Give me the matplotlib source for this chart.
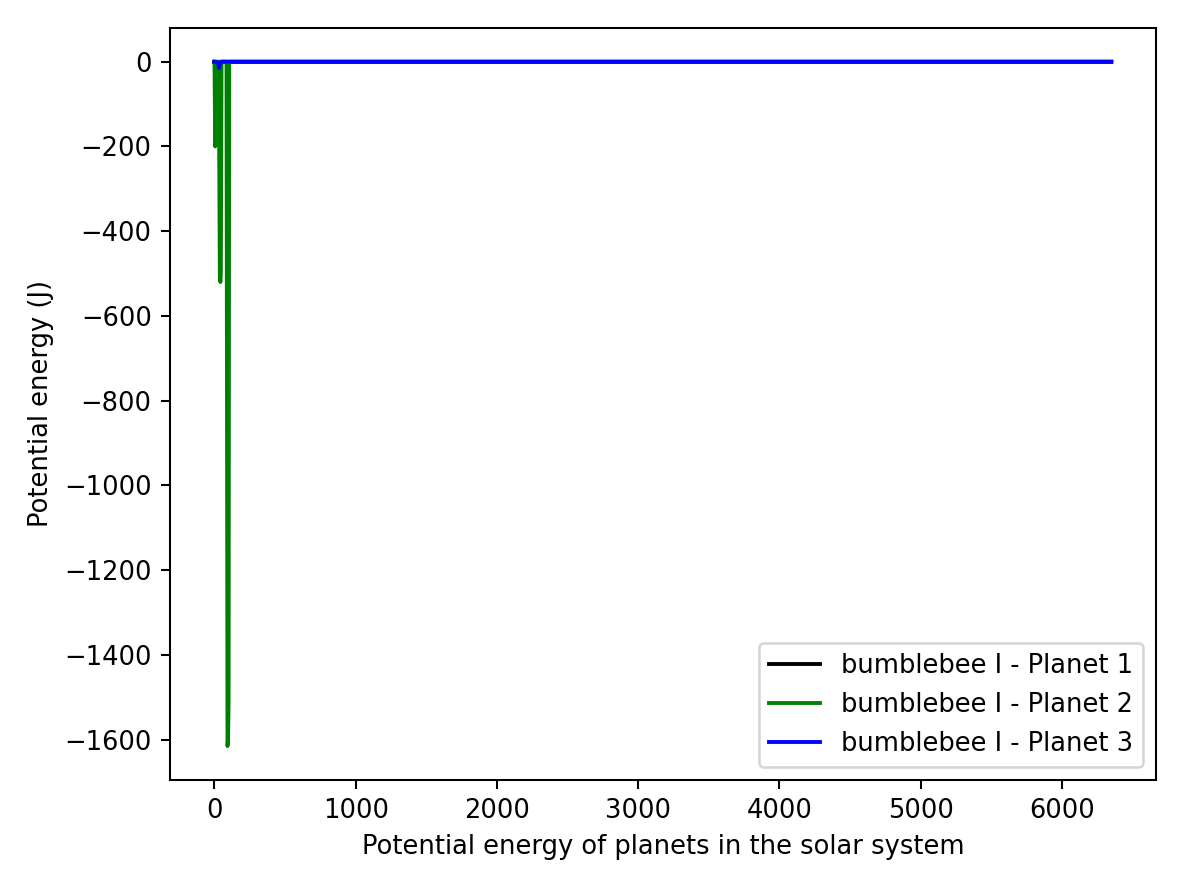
import numpy as np
import matplotlib.pyplot as plt

# time (x) and potential energies
t1 = [0, 6350]
pe1 = [0, 0]

t2 = [0, 5, 8, 12, 30, 38, 42, 45, 50, 85, 92, 96, 100, 104, 6350]
pe2 = [0, -200, -5, 0, 0, -510, -520, -500, 0, 0, -1615, -1600, -1510, 0, 0]

t3 = [0, 25, 32, 38, 45, 6350]
pe3 = [0, -2, -15, -8, 0, 0]

fig, ax = plt.subplots(figsize=(6.4, 4.8), dpi=185)
ax.plot(t1, pe1, color="black", label="bumblebee I - Planet 1")
ax.plot(t2, pe2, color="green", label="bumblebee I - Planet 2")
ax.plot(t3, pe3, color="blue", label="bumblebee I - Planet 3")
ax.set_xlabel("Potential energy of planets in the solar system")
ax.set_ylabel("Potential energy (J)")
ax.set_ylim(-1695, 80)
ax.legend(loc="lower right")
plt.tight_layout()
plt.savefig("out.png")
